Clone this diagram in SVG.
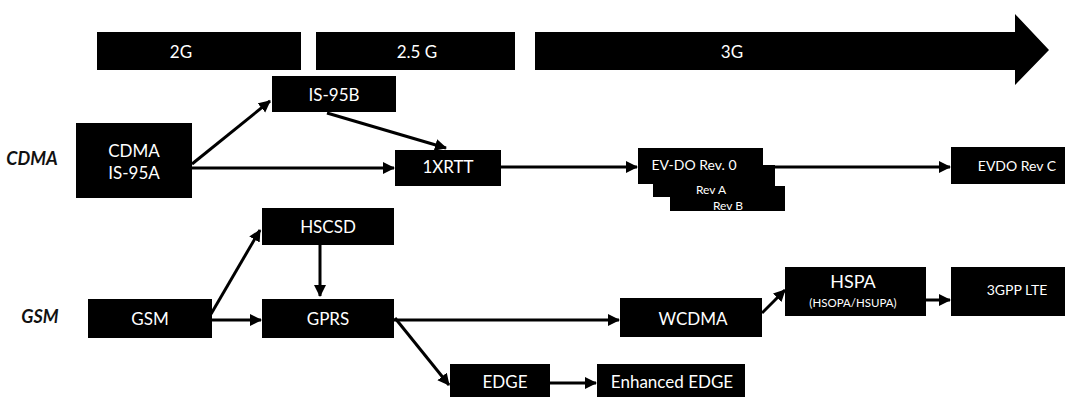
<svg xmlns="http://www.w3.org/2000/svg" width="1068" height="397" viewBox="0 0 1068 397">
<defs>
<marker id="ah" markerUnits="userSpaceOnUse" markerWidth="14" markerHeight="14" refX="11" refY="6" orient="auto">
<path d="M0,0 L12,6 L0,12 Z" fill="#000"/>
</marker>
<style>
.box{fill:#000}
.t{fill:#fff;font-family:Lato,"Liberation Sans",sans-serif;font-size:17px;text-anchor:middle;dominant-baseline:central}
.s{font-size:14px}
.r{font-size:12px}
.xs{font-size:11.5px}
.lbl{fill:#111;font-family:Lato,"Liberation Sans",sans-serif;font-size:18px;font-style:italic;font-weight:bold;text-anchor:middle;dominant-baseline:central}
.c{stroke:#000;stroke-width:3;fill:none;marker-end:url(#ah)}
</style>
</defs>
<rect width="1068" height="397" fill="#fff"/>

<g id="era-2g"><rect class="box" x="97" y="32" width="204" height="38"/><text class="t" x="181" y="51">2G</text></g>
<g id="era-25g"><rect class="box" x="316" y="32" width="199" height="38"/><text class="t" x="417" y="51">2.5 G</text></g>
<g id="era-3g"><path class="box" d="M535,32 H1015 V14 L1049,50 L1015,85 V70 H535 Z"/><text class="t" x="732" y="51">3G</text></g>

<g id="lbl-cdma"><text class="lbl" x="32" y="158">CDMA</text></g>
<g id="lbl-gsm"><text class="lbl" x="40" y="316">GSM</text></g>

<g id="connectors">
<path class="c" d="M192,164 L270,101"/>
<path class="c" d="M192,168 L394,168"/>
<path class="c" d="M327,113 L446,148"/>
<path class="c" d="M501,167 L637,167"/>
<path class="c" d="M763,167 L950,167"/>
<path class="c" d="M211,314 L260,230"/>
<path class="c" d="M212,320 L261,320"/>
<path class="c" d="M320,245 L320,296"/>
<path class="c" d="M395,318 L449,385"/>
<path class="c" d="M394,320 L619,320"/>
<path class="c" d="M762,313 L785,290"/>
<path class="c" d="M926,300 L950,300"/>
<path class="c" d="M550,383 L596,383"/>
</g>

<g id="n-cdma"><rect class="box" x="76" y="123" width="116" height="75"/><text class="t" x="134" y="150">CDMA</text><text class="t" x="134" y="172">IS-95A</text></g>
<g id="n-is95b"><rect class="box" x="272" y="76" width="124" height="36"/><text class="t" x="334" y="94">IS-95B</text></g>
<g id="n-1xrtt"><rect class="box" x="395" y="150" width="106" height="36"/><text class="t" x="448" y="166">1XRTT</text></g>
<g id="n-evdo-b"><rect class="box" x="670" y="186" width="115" height="25"/><text class="t r" x="728" y="205">Rev B</text></g>
<g id="n-evdo-a"><rect class="box" x="653" y="165" width="122" height="32"/><text class="t r" x="711" y="189">Rev A</text></g>
<g id="n-evdo-0"><rect class="box" x="638" y="148" width="125" height="36"/><text class="t s" x="694" y="164">EV-DO  Rev. 0</text></g>
<g id="n-evdoc"><rect class="box" x="951" y="147" width="114" height="37"/><text class="t s" x="1017" y="165">EVDO Rev C</text></g>

<g id="n-gsm"><rect class="box" x="88" y="299" width="124" height="39"/><text class="t" x="150" y="318">GSM</text></g>
<g id="n-hscsd"><rect class="box" x="262" y="208" width="132" height="37"/><text class="t" x="328" y="226">HSCSD</text></g>
<g id="n-gprs"><rect class="box" x="262" y="299" width="132" height="39"/><text class="t" x="328" y="318">GPRS</text></g>
<g id="n-edge"><rect class="box" x="450" y="364" width="100" height="33"/><text class="t" x="505" y="381">EDGE</text></g>
<g id="n-eedge"><rect class="box" x="597" y="364" width="148" height="33"/><text class="t" x="672" y="381">Enhanced EDGE</text></g>
<g id="n-wcdma"><rect class="box" x="620" y="298" width="142" height="39"/><text class="t" x="693" y="318">WCDMA</text></g>
<g id="n-hspa"><rect class="box" x="785" y="267" width="141" height="49"/><text class="t" x="853" y="281" style="font-size:18px">HSPA</text><text class="t xs" x="853" y="302">(HSOPA/HSUPA)</text></g>
<g id="n-lte"><rect class="box" x="951" y="267" width="114" height="49"/><text class="t s" x="1017" y="289">3GPP LTE</text></g>
</svg>
